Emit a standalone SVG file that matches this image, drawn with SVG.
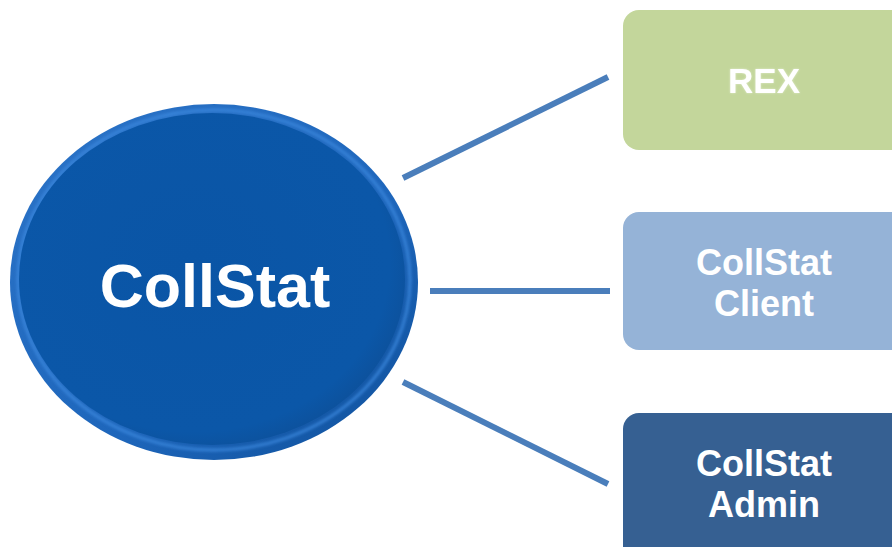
<svg xmlns="http://www.w3.org/2000/svg" width="892" height="547" viewBox="0 0 892 547">
  <defs>
    <radialGradient id="ellFill" cx="0.45" cy="0.45" r="0.6">
      <stop offset="0" stop-color="#0a55a6"/>
      <stop offset="0.85" stop-color="#0b57a8"/>
      <stop offset="1" stop-color="#0d4f98"/>
    </radialGradient>
    <linearGradient id="rim" x1="0" y1="0" x2="1" y2="1">
      <stop offset="0" stop-color="#2c74c8"/>
      <stop offset="0.6" stop-color="#1e66bb"/>
      <stop offset="1" stop-color="#0e4f99"/>
    </linearGradient>
    <filter id="blur" x="-10%" y="-10%" width="120%" height="120%">
      <feGaussianBlur stdDeviation="1.5"/>
    </filter>
    <filter id="glow" x="-10%" y="-10%" width="120%" height="120%">
      <feGaussianBlur in="SourceAlpha" stdDeviation="1.2" result="b"/>
      <feFlood flood-color="#ffffff" flood-opacity="0.5"/>
      <feComposite in2="b" operator="in" result="g"/>
      <feMerge><feMergeNode in="g"/><feMergeNode in="SourceGraphic"/></feMerge>
    </filter>
  </defs>
  <style>
    .lbl { font-family: "Liberation Sans", Arial, sans-serif; font-weight: bold; fill: #ffffff; text-anchor: middle; }
    .conn { stroke: #4a7ebb; stroke-width: 6; fill: none; }
  </style>
  <rect width="892" height="547" fill="#ffffff"/>

  <g id="connectors">
    <line class="conn" x1="403" y1="178" x2="608" y2="77"/>
    <line class="conn" x1="430" y1="291" x2="610" y2="291" stroke-width="8"/>
    <line class="conn" x1="403" y1="382" x2="608" y2="484"/>
  </g>

  <g id="collstat">
    <ellipse cx="214" cy="282" rx="204" ry="178" fill="url(#rim)"/>
    <ellipse cx="214" cy="280" rx="196" ry="170" fill="none" stroke="#3d8ae0" stroke-width="3" filter="url(#blur)" opacity="0.8"/>
    <ellipse cx="212" cy="279" rx="193" ry="166" fill="url(#ellFill)"/>
    <text class="lbl" x="215" y="307" font-size="61">CollStat</text>
  </g>

  <g id="rex">
    <rect x="623" y="10" width="295" height="140" rx="16" fill="#c3d69b"/>
    <text class="lbl" x="764" y="93" font-size="35" filter="url(#glow)">REX</text>
  </g>

  <g id="client">
    <rect x="623" y="212" width="295" height="138" rx="16" fill="#95b3d7"/>
    <text class="lbl" x="764" y="275" font-size="36">CollStat</text>
    <text class="lbl" x="764" y="316" font-size="36">Client</text>
  </g>

  <g id="admin">
    <rect x="623" y="413" width="295" height="150" rx="16" fill="#366092"/>
    <text class="lbl" x="764" y="476" font-size="36">CollStat</text>
    <text class="lbl" x="764" y="517" font-size="36">Admin</text>
  </g>
</svg>
